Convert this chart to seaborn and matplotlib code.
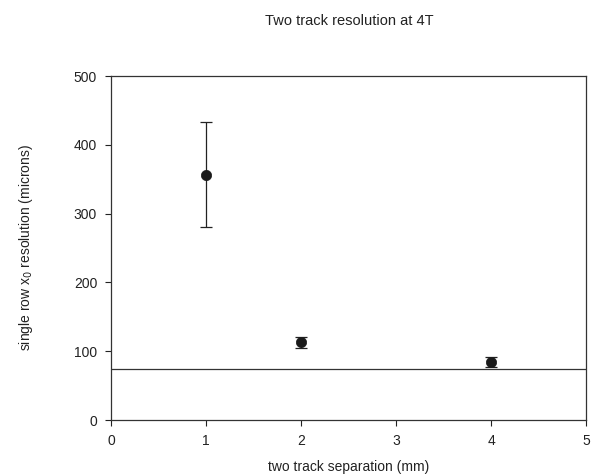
import matplotlib
matplotlib.use("Agg")
import matplotlib.pyplot as plt
import seaborn as sns
import pandas as pd

# data
separation = [1, 2, 4]
resolution = [356, 113, 84]
err_low = [76, 8, 7]
err_high = [77, 8, 8]
reference_level = 74

df = pd.DataFrame({"separation": separation, "resolution": resolution})

sns.set_style("ticks")
plt.rcParams['font.family'] = ['Liberation Sans', 'DejaVu Sans']

fig = plt.figure(figsize=(5.95, 4.76), dpi=100)
ax = fig.add_axes([0.1866, 0.1176, 0.7984, 0.7227])

ax.errorbar(separation, resolution, yerr=[err_low, err_high], fmt="none",
            ecolor="#222222", elinewidth=0.9, capsize=4.5, capthick=0.9, zorder=2)
sns.scatterplot(data=df, x="separation", y="resolution", color="#1a1a1a",
                s=55, edgecolor="#1a1a1a", linewidth=0.5, ax=ax, zorder=3)
ax.axhline(reference_level, color="#333333", linewidth=0.9, zorder=1)

ax.set_xlim(0, 5)
ax.set_ylim(0, 500)
ax.set_xticks([0, 1, 2, 3, 4, 5])
ax.set_yticks([0, 100, 200, 300, 400, 500])
ax.tick_params(direction="out", length=4, width=0.8, labelsize=10, colors="#222222", pad=6)
for s in ax.spines.values():
    s.set_visible(True)
    s.set_linewidth(0.9)
    s.set_color("#333333")

ax.set_xlabel("two track separation (mm)", fontsize=10, color="#222222", labelpad=9)
ax.set_ylabel("single row x$_0$ resolution (microns)", fontsize=10, color="#222222", labelpad=28)
fig.text(0.5866, 0.955, "Two track resolution at 4T", ha="center", va="center",
         fontsize=10.5, color="#222222")

fig.savefig("out.png", dpi=100)
